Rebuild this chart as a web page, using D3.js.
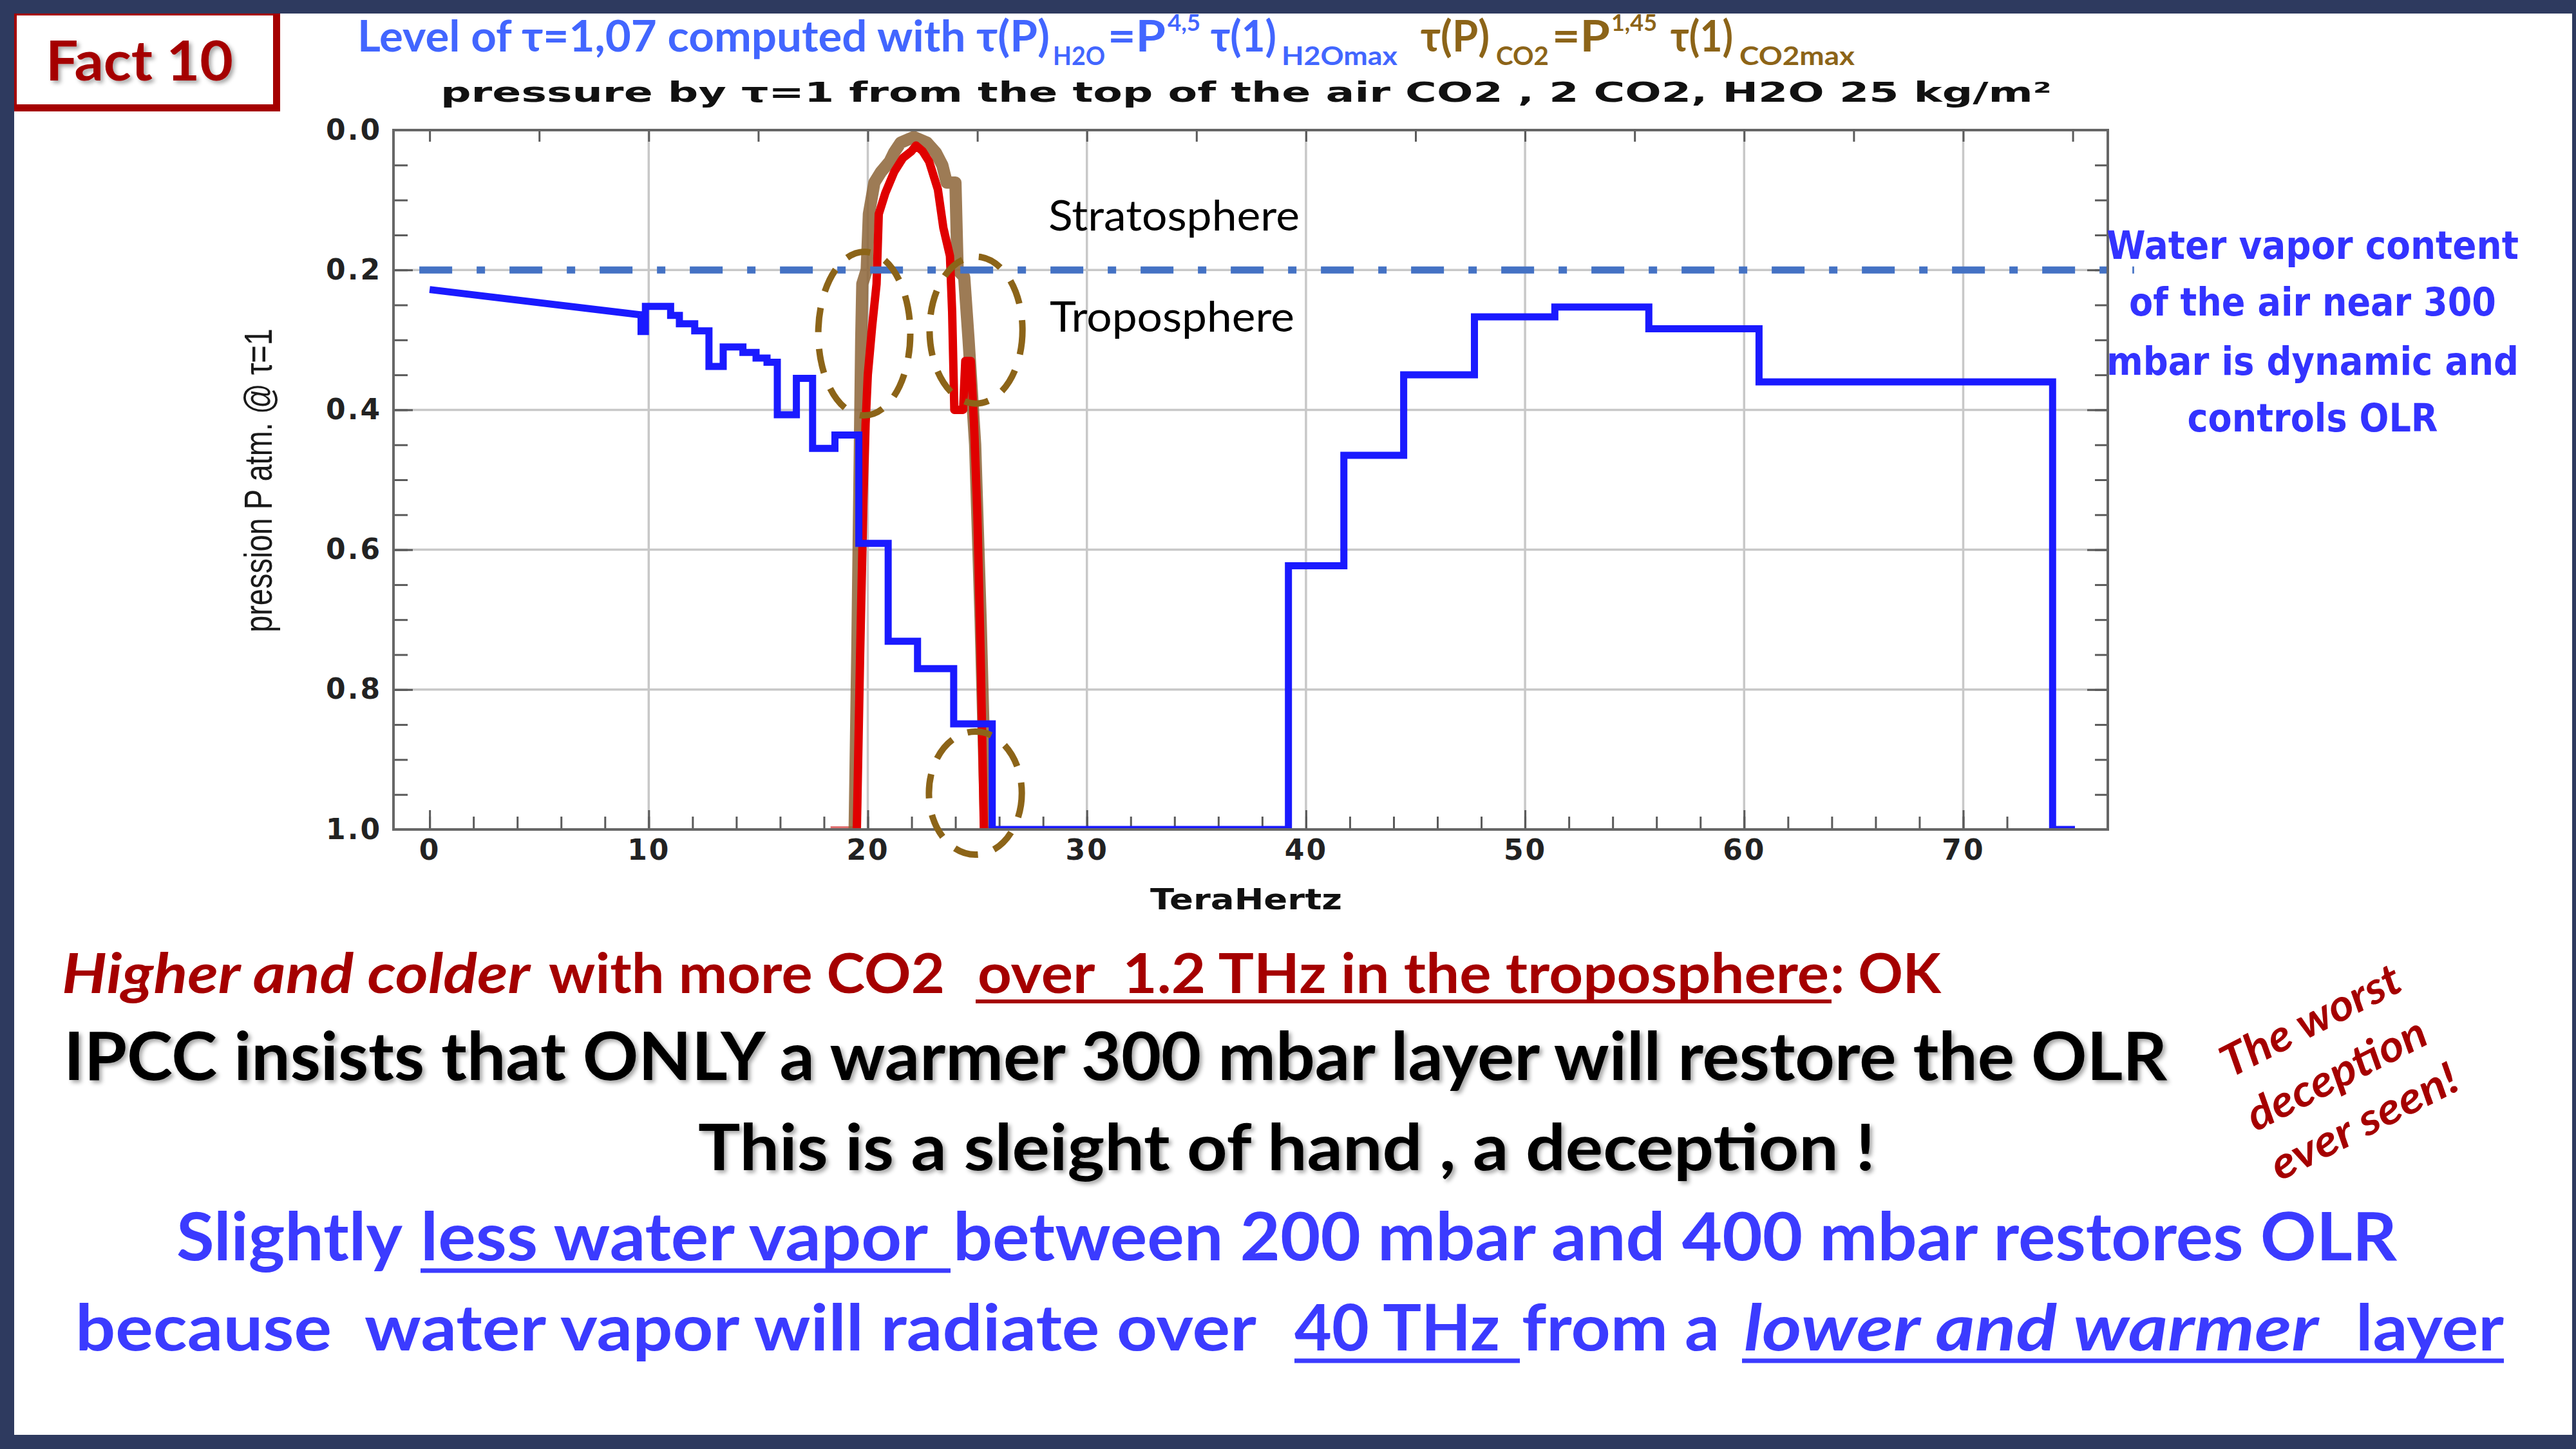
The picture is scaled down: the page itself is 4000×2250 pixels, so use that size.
<!DOCTYPE html>
<html lang="en">
<head>
<meta charset="UTF-8">
<title>Fact 10</title>
<script src="https://d3js.org/d3.v7.min.js"></script>
<style>
  html,body{margin:0;padding:0;background:#2e3a5f;}
  svg{display:block;}
  .axis text{font-family:"DejaVu Sans",sans-serif;font-weight:bold;font-size:44px;fill:#222;letter-spacing:3px;}
  .axis path{display:none;}
  .axis line{stroke:#5a5a5a;stroke-width:3;}
  .grid line{stroke:#c8c8c8;stroke-width:3.5;}
</style>
</head>
<body>
<svg id="chart" width="4000" height="2250"></svg>
<script>
// ---- values ----
var xMajor = [0, 10, 20, 30, 40, 50, 60, 70];
var xGrid = [10, 20, 30, 40, 50, 60, 70];
var yMajor = [0, 0.2, 0.4, 0.6, 0.8, 1.0];
var yGrid = [0.2, 0.4, 0.6, 0.8];

// H2O: sloped start, then steps [x start, level]
var h2oSlope = [[0, 0.228], [9.6, 0.264]];
var h2oSteps = [
  [9.6, 0.264], [9.65, 0.288], [9.85, 0.252], [11.0, 0.265], [11.4, 0.277],
  [12.1, 0.287], [12.75, 0.338], [13.4, 0.31], [14.3, 0.318], [14.9, 0.326],
  [15.4, 0.332], [15.87, 0.407], [16.74, 0.355], [17.48, 0.455], [18.5, 0.436],
  [19.59, 0.591], [20.93, 0.731], [22.27, 0.77], [23.92, 0.849], [25.68, 1.0],
  [39.2, 0.623], [41.73, 0.465], [44.46, 0.35], [47.69, 0.267], [51.36, 0.253],
  [55.65, 0.284], [60.68, 0.36], [74.08, 1.0], [75.1, 1.0]
];

// CO2 (brown) and 2 CO2 (red)
var co2Brown = [
  [19.4, 1.0], [19.52, 0.75], [19.62, 0.5], [19.7, 0.3], [19.75, 0.22], [19.95, 0.2],
  [20.05, 0.12], [20.3, 0.075], [20.6, 0.06], [21.0, 0.045], [21.2, 0.032], [21.5, 0.018],
  [22.1, 0.01], [22.7, 0.018], [23.1, 0.032], [23.4, 0.05], [23.6, 0.075], [24.0, 0.075],
  [24.1, 0.2], [24.4, 0.21], [24.6, 0.3], [24.9, 0.45], [25.15, 0.7], [25.4, 1.0]
];
var co2Red = [
  [19.5, 1.0], [19.65, 0.75], [19.8, 0.53], [19.9, 0.42], [20.0, 0.35], [20.2, 0.28],
  [20.4, 0.22], [20.5, 0.12], [20.8, 0.09], [21.2, 0.06], [21.6, 0.04], [22.0, 0.03],
  [22.2, 0.022], [22.5, 0.03], [22.8, 0.045], [23.2, 0.085], [23.45, 0.14], [23.75, 0.18],
  [23.85, 0.26], [23.95, 0.4], [24.35, 0.4], [24.45, 0.33], [24.7, 0.33], [24.85, 0.42],
  [25.0, 0.55], [25.15, 0.75], [25.3, 1.0]
];
var redFloorL = [[18.3, 1], [19.5, 1]];
var redFloorR = [[25.3, 1], [27.8, 1]];

var tropopause = 0.2;
var tropoSpan = [-0.47, 77.8];

// dashed rings [cx, cy, rx, ry] in data units
var rings = [[19.84, 0.291, 2.1, 0.117], [24.94, 0.286, 2.12, 0.105], [24.91, 0.948, 2.12, 0.088]];

var noteLines = ["Water vapor content", "of the air near 300", "mbar is dynamic and", "controls OLR"];
var worstLines = ["The worst", "deception", "ever seen!"];

// ---- page ----
var svg = d3.select("#chart");
var defs = svg.append("defs");
defs.append("filter").attr("id", "shadow")
  .attr("x", "-5%").attr("y", "-20%").attr("width", "110%").attr("height", "150%")
  .append("feDropShadow").attr("dx", 4).attr("dy", 4).attr("stdDeviation", 3)
  .attr("flood-color", "#000").attr("flood-opacity", 0.35);
defs.append("clipPath").attr("id", "plotclip")
  .append("rect").attr("x", 611).attr("y", 202).attr("width", 2662).attr("height", 1086);

svg.append("rect").attr("width", 4000).attr("height", 2250).attr("fill", "#2e3a5f");
svg.append("rect").attr("x", 22).attr("y", 21).attr("width", 3972).attr("height", 2207).attr("fill", "#fff");

function txt(str, x0, x1, base, size, color, opt) {
  opt = opt || {};
  return (opt.parent || svg).append("text")
    .attr("x", x0).attr("y", base)
    .attr("textLength", x1 - x0).attr("lengthAdjust", "spacingAndGlyphs")
    .style("white-space", "pre")
    .style("font-family", opt.font || "Lato, 'Open Sans', sans-serif")
    .style("font-size", size + "px")
    .style("font-weight", opt.weight || 700)
    .style("font-style", opt.italic ? "italic" : "normal")
    .style("fill", color)
    .text(str);
}
function underline(x0, x1, yc, h, color) {
  svg.append("rect").attr("x", x0).attr("y", yc - h / 2).attr("width", x1 - x0).attr("height", h).attr("fill", color);
}

// Fact 10 box
svg.append("rect").attr("x", 22).attr("y", 21).attr("width", 413).attr("height", 152).attr("fill", "#a50000");
svg.append("rect").attr("x", 26).attr("y", 24).attr("width", 398).attr("height", 138).attr("fill", "#fff");
txt("Fact 10", 71, 362, 125, 86, "#a50000").attr("filter", "url(#shadow)");

// titles
var blueT = "#4266ff", brownT = "#8c6418";
txt("Level of τ=1,07 computed with τ(P)", 555, 1630, 80, 66, blueT);
txt("H2O", 1635, 1716, 101, 40, blueT);
txt("=P", 1720, 1810, 80, 66, blueT);
txt("4,5", 1813, 1864, 48, 36, blueT);
txt("τ(1)", 1880, 1982, 80, 66, blueT);
txt("H2Omax", 1990, 2170, 101, 40, blueT);
txt("τ(P)", 2206, 2313, 80, 66, brownT);
txt("CO2", 2323, 2405, 101, 40, brownT);
txt("=P", 2410, 2500, 80, 66, brownT);
txt("1,45", 2502, 2573, 48, 36, brownT);
txt("τ(1)", 2594, 2691, 80, 66, brownT);
txt("CO2max", 2701, 2880, 101, 40, brownT);
txt("pressure by τ=1 from the top of the air CO2 , 2 CO2, H2O 25 kg/m²", 684, 3186, 158, 42, "#111",
  {font: "'DejaVu Sans', sans-serif", weight: 700});

// ---- chart ----
var x = d3.scaleLinear().domain([-1.65, 76.6]).range([611, 3273]);
var y = d3.scaleLinear().domain([0, 1]).range([202, 1288]);

var grid = svg.append("g").attr("class", "grid");
grid.selectAll(".gx").data(xGrid).enter().append("line")
  .attr("x1", d => x(d)).attr("x2", d => x(d)).attr("y1", y(0)).attr("y2", y(1));
grid.selectAll(".gy").data(yGrid).enter().append("line")
  .attr("x1", 611).attr("x2", 3273).attr("y1", d => y(d)).attr("y2", d => y(d));

var minorY = d3.range(0, 1.001, 0.05);
var minorX = d3.range(0, 76, 2);
var topX = d3.range(0, 76, 5);

svg.append("g").attr("class", "axis").attr("transform", "translate(611,0)")
  .call(d3.axisLeft(y).tickValues(minorY).tickSize(-22).tickFormat(""));
svg.append("g").attr("class", "axis").attr("transform", "translate(611,0)")
  .call(d3.axisLeft(y).tickValues(yMajor).tickSize(-30).tickPadding(18).tickFormat(d3.format(".1f")));
svg.append("g").attr("class", "axis").attr("transform", "translate(3273,0)")
  .call(d3.axisRight(y).tickValues(minorY).tickSize(-20).tickFormat(""));
svg.append("g").attr("class", "axis").attr("transform", "translate(3273,0)")
  .call(d3.axisRight(y).tickValues(yMajor).tickSize(-32).tickFormat(""));
svg.append("g").attr("class", "axis").attr("transform", "translate(0,1288)")
  .call(d3.axisBottom(x).tickValues(minorX).tickSize(-20).tickFormat(""));
svg.append("g").attr("class", "axis").attr("transform", "translate(0,1288)")
  .call(d3.axisBottom(x).tickValues(xMajor).tickSize(-30).tickPadding(16).tickFormat(d3.format("d")));
svg.append("g").attr("class", "axis").attr("transform", "translate(0,202)")
  .call(d3.axisTop(x).tickValues(topX).tickSize(-18).tickFormat(""));

var line = d3.line().x(d => x(d[0])).y(d => y(d[1]));
var stepLine = d3.line().x(d => x(d[0])).y(d => y(d[1])).curve(d3.curveStepAfter);

var plot = svg.append("g").attr("clip-path", "url(#plotclip)");
plot.append("path").datum(redFloorL).attr("d", line).attr("fill", "none").attr("stroke", "#e07070").attr("stroke-width", 10);
plot.append("path").datum(redFloorR).attr("d", line).attr("fill", "none").attr("stroke", "#c05070").attr("stroke-width", 10);
plot.append("path").datum(co2Brown).attr("d", line).attr("fill", "none")
  .attr("stroke", "#8c6437").attr("stroke-width", 19).attr("stroke-linejoin", "round").attr("opacity", 0.85);
plot.append("path").datum(co2Red).attr("d", line).attr("fill", "none")
  .attr("stroke", "#e00000").attr("stroke-width", 13).attr("stroke-linejoin", "round");
plot.append("path").datum(h2oSlope).attr("d", line).attr("fill", "none")
  .attr("stroke", "#1a1aff").attr("stroke-width", 11);
plot.append("path").datum(h2oSteps).attr("d", stepLine).attr("fill", "none")
  .attr("stroke", "#1a1aff").attr("stroke-width", 11);

// tropopause dash-dot
svg.append("line")
  .attr("x1", x(tropoSpan[0])).attr("x2", x(tropoSpan[1]))
  .attr("y1", y(tropopause)).attr("y2", y(tropopause))
  .attr("stroke", "#4472c4").attr("stroke-width", 11).attr("stroke-dasharray", "51,38,13,38");

// frame
svg.append("rect").attr("x", 611).attr("y", 202).attr("width", 2662).attr("height", 1086)
  .attr("fill", "none").attr("stroke", "#666").attr("stroke-width", 4);

// dashed rings
svg.selectAll(".ring").data(rings).enter().append("ellipse")
  .attr("cx", d => x(d[0])).attr("cy", d => y(d[1]))
  .attr("rx", d => x(d[0] + d[2]) - x(d[0])).attr("ry", d => y(d[1] + d[3]) - y(d[1]))
  .attr("fill", "none").attr("stroke", "#8c6418").attr("stroke-width", 10).attr("stroke-dasharray", "38,26");

// axis titles
svg.append("text").attr("transform", "translate(422,746) rotate(-90)")
  .attr("x", -236).attr("y", 0).attr("textLength", 472).attr("lengthAdjust", "spacingAndGlyphs")
  .style("font-family", "'Liberation Sans Narrow','Liberation Sans',sans-serif").style("font-size", "62px")
  .style("font-weight", 500).style("fill", "#1a1a1a").text("pression P atm. @ τ=1");
txt("TeraHertz", 1786, 2084, 1412, 44, "#111", {font: "'DejaVu Sans', sans-serif"});

txt("Stratosphere", 1628, 2018, 358, 66, "#000", {weight: 400});
txt("Troposphere", 1630, 2010, 515, 66, "#000", {weight: 400});

// right note
var noteBase = [402, 490, 582, 670];
var noteLen = [640, 570, 640, 389];
noteLines.forEach(function (s, i) {
  txt(s, 3591 - noteLen[i] / 2, 3591 + noteLen[i] / 2, noteBase[i], 60, "#3333ff", {font: "'DejaVu Sans', sans-serif"});
});

// ---- bottom text ----
var darkRed = "#a50000", blueB = "#3b3bff";
txt("Higher and colder", 96, 823, 1542, 86, darkRed, {italic: true});
txt("with more CO2", 852, 1467, 1542, 86, darkRed);
txt("over  1.2 THz in the troposphere", 1518, 2840, 1542, 86, darkRed);
underline(1515, 2844, 1555, 6, darkRed);
txt(": OK", 2842, 3014, 1542, 86, darkRed);

txt("IPCC insists that ONLY a warmer 300 mbar layer will restore the OLR", 99, 3365, 1677, 103, "#000").attr("filter", "url(#shadow)");
txt("This is a sleight of hand , a deception !", 1084, 2912, 1817, 100, "#000").attr("filter", "url(#shadow)");

txt("Slightly", 274, 625, 1957, 103, blueB);
txt("less water vapor", 653, 1441, 1957, 103, blueB);
underline(653, 1476, 1973, 7, blueB);
txt("between 200 mbar and 400 mbar restores OLR", 1480, 3722, 1957, 103, blueB);

txt("because  water vapor will radiate over", 117, 1951, 2097, 100, blueB);
txt("40 THz", 2010, 2329, 2097, 100, blueB);
underline(2010, 2360, 2113, 7, blueB);
txt("from a", 2363, 2670, 2097, 100, blueB);
txt("lower and warmer", 2708, 3600, 2097, 100, blueB, {italic: true});
txt("layer", 3658, 3888, 2097, 100, blueB);
underline(2705, 3888, 2113, 7, blueB);

// rotated remark
var worstPos = [[3588, 1585, 305], [3628, 1668, 305], [3671, 1742, 318]];
worstLines.forEach(function (s, i) {
  var p = worstPos[i];
  var g = svg.append("g").attr("transform", "translate(" + p[0] + "," + p[1] + ") rotate(-27)");
  txt(s, -p[2] / 2, p[2] / 2, 23, 68, darkRed, {italic: true, parent: g});
});
</script>
</body>
</html>
